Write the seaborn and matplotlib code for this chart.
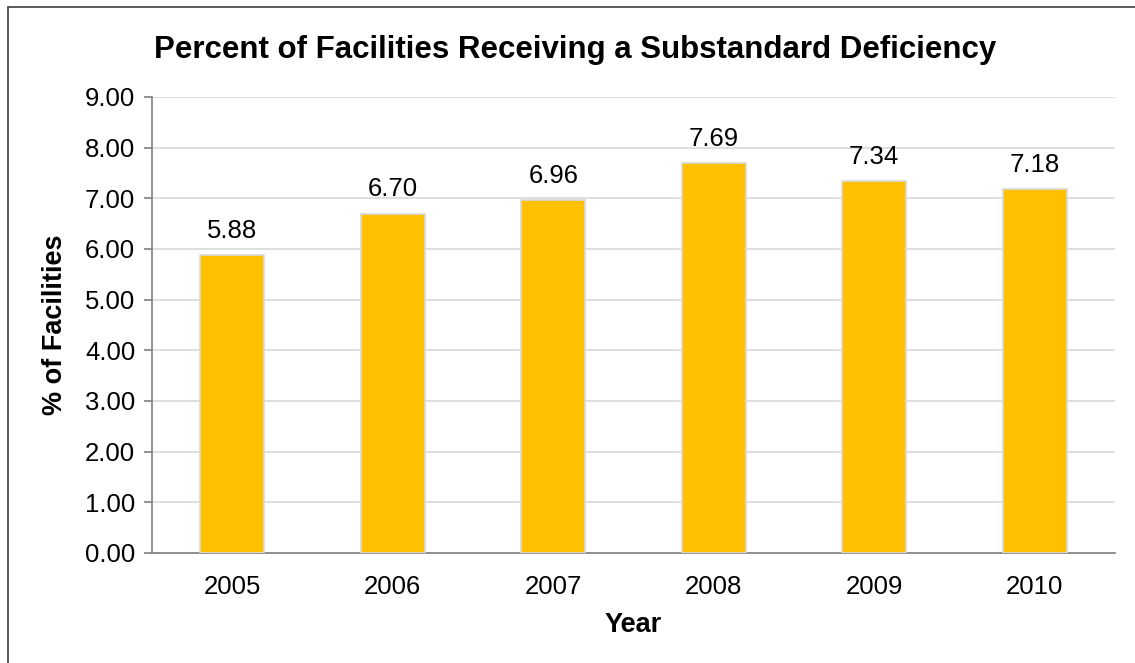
import matplotlib
matplotlib.use("Agg")
import matplotlib.pyplot as plt
import seaborn as sns
import pandas as pd
from matplotlib.patches import Rectangle

years = ["2005", "2006", "2007", "2008", "2009", "2010"]
percent = [5.88, 6.70, 6.96, 7.69, 7.34, 7.18]
yticks = [0, 1, 2, 3, 4, 5, 6, 7, 8, 9]

sns.set_theme(style="white")
plt.rcParams["font.family"] = ["Liberation Sans", "DejaVu Sans"]
plt.rcParams["text.color"] = "black"
plt.rcParams["axes.labelcolor"] = "black"
plt.rcParams["xtick.color"] = "black"
plt.rcParams["ytick.color"] = "black"

df = pd.DataFrame({"Year": years, "Percent": percent})

fig = plt.figure(figsize=(11.35, 6.63), dpi=100)
ax = fig.add_axes([152/1135, 1-553/663, (1115-152)/1135, (553-97)/663])

sns.barplot(data=df, x="Year", y="Percent", color="#FFC000", width=0.4,
            edgecolor="#D9D9D9", linewidth=1.2, saturation=1, ax=ax, zorder=3)

ax.set_ylim(0, 9)
ax.set_xlim(-0.5, len(years) - 0.5)
ax.set_yticks(yticks)
ax.set_yticklabels([f"{v:.2f}" for v in yticks], fontsize=18.5)
ax.yaxis.grid(True, color="#D9D9D9", linewidth=1.2, zorder=0)
ax.set_axisbelow(True)

ax.set_xticks(range(len(years)))
ax.set_xticklabels(years, fontsize=18.5)
ax.tick_params(axis="x", which="major", length=0, pad=16)
ax.set_xticks([i - 0.5 for i in range(len(years) + 1)], minor=True)
ax.tick_params(axis="x", which="minor", length=6, color="#808080", width=1.2, direction="out")
ax.tick_params(axis="y", which="major", length=6, color="#808080", width=1.2,
               direction="out", left=True, pad=6, labelcolor="black")

for s in ["top", "right"]:
    ax.spines[s].set_visible(False)
for s in ["left", "bottom"]:
    ax.spines[s].set_color("#808080")
    ax.spines[s].set_linewidth(1.2)

for i, v in enumerate(percent):
    ax.annotate(f"{v:.2f}", (i, v), xytext=(0, 9), textcoords="offset points",
                ha="center", va="bottom", fontsize=18.5, color="black")

ax.set_xlabel("Year", fontsize=19.5, fontweight="bold", labelpad=9)
ax.set_ylabel("% of Facilities", fontsize=19.5, fontweight="bold", labelpad=12)

fig.text(575/1135, 1-50/663, "Percent of Facilities Receiving a Substandard Deficiency",
         ha="center", va="center", fontsize=22.5, fontweight="bold", color="black")

fig.patches.append(Rectangle((8/1135, -0.1), 1.2, 1.1-7/663, transform=fig.transFigure,
                             fill=False, edgecolor="#404040", linewidth=1.2))

fig.savefig("out.png", dpi=100)
